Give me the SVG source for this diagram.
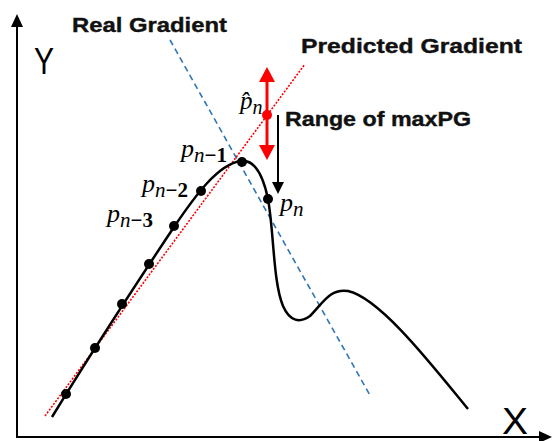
<svg xmlns="http://www.w3.org/2000/svg" width="552" height="441" viewBox="0 0 552 441">
<style>
.lbl{font-family:"Liberation Sans",Arial,sans-serif;font-weight:bold;font-size:21px;fill:#111;stroke:#111;stroke-width:0.4}
.ax{font-family:"Liberation Sans",Arial,sans-serif;fill:#000}
.m{font-family:"Liberation Serif","Times New Roman",serif;font-style:italic;fill:#000}
.s{font-style:normal;font-weight:bold}
.dot{fill:#000}
</style>
<rect width="552" height="441" fill="#fff"/>
<g id="axes">
<line x1="17" y1="437" x2="17" y2="26" stroke="#000" stroke-width="2"/>
<polygon points="17,14 11,27 23,27" fill="#000"/>
<line x1="16" y1="437" x2="540" y2="437" stroke="#000" stroke-width="2"/>
<polygon points="552,437 539,431 539,443" fill="#000"/>
<text class="ax" x="34" y="74" font-size="36" textLength="20" lengthAdjust="spacingAndGlyphs">Y</text>
<text class="ax" x="502" y="434" font-size="37" textLength="26" lengthAdjust="spacingAndGlyphs">X</text>
</g>
<g id="labels">
<text class="lbl" x="72" y="32" textLength="155" lengthAdjust="spacingAndGlyphs">Real Gradient</text>
<text class="lbl" x="301" y="53" textLength="221" lengthAdjust="spacingAndGlyphs">Predicted Gradient</text>
<text class="lbl" x="285" y="126" textLength="186" lengthAdjust="spacingAndGlyphs">Range of maxPG</text>
</g>
<g id="connectors">
<line x1="170" y1="40" x2="371" y2="397" stroke="#2e75b6" stroke-width="1.6" stroke-dasharray="6,4"/>
<line x1="45" y1="416" x2="305" y2="64" stroke="#ff0000" stroke-width="1.6" stroke-dasharray="2,1.5"/>
<path d="M52,417 C90,355 140,278 174,227 C195,196 218,164 241,161 C257,159 264,180 268,199 C274,232 273,282 283,306 C290,322 300,323 310,316 C323,303 330,288 348,291 C380,298 432,365 468,409" fill="none" stroke="#000" stroke-width="2.5"/>
<line x1="267" y1="80" x2="267" y2="147" stroke="#ff0000" stroke-width="3"/>
<polygon points="267,67 259,82 275,82" fill="#ff0000"/>
<polygon points="267,160 259,145 275,145" fill="#ff0000"/>
<line x1="278" y1="115" x2="278" y2="184" stroke="#000" stroke-width="2"/>
<polygon points="278,194 272,182 284,182" fill="#000"/>
</g>
<g id="points">
<circle class="dot" cx="242" cy="162" r="5"/>
<circle class="dot" cx="201" cy="191" r="5"/>
<circle class="dot" cx="268" cy="199" r="5"/>
<circle class="dot" cx="174" cy="226" r="5"/>
<circle class="dot" cx="149" cy="264" r="5"/>
<circle class="dot" cx="122" cy="304" r="5"/>
<circle class="dot" cx="95" cy="348" r="5"/>
<circle class="dot" cx="66" cy="394" r="5"/>
<circle cx="267" cy="115" r="5" fill="#ff0000"/>
</g>
<g id="math">
<text class="m" x="181" y="157" font-size="26">p<tspan font-size="21" dy="5">n</tspan><tspan class="s" font-size="21">−1</tspan></text>
<text class="m" x="142" y="192" font-size="26">p<tspan font-size="21" dy="5">n</tspan><tspan class="s" font-size="21">−2</tspan></text>
<text class="m" x="107" y="222" font-size="26">p<tspan font-size="21" dy="5">n</tspan><tspan class="s" font-size="21">−3</tspan></text>
<text class="m" x="280" y="211" font-size="26">p<tspan font-size="21" dy="5">n</tspan></text>
<text class="m" x="240" y="109" font-size="25">p&#x302;<tspan font-size="20" dy="5">n</tspan></text>
</g>
</svg>
